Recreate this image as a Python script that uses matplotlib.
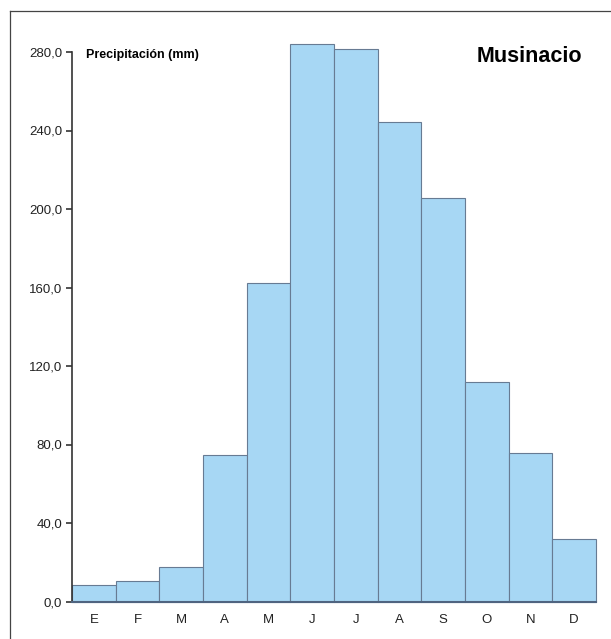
import matplotlib
matplotlib.use("Agg")
import matplotlib.pyplot as plt
from matplotlib.lines import Line2D
from matplotlib.ticker import FuncFormatter

plt.rcParams["font.family"] = ["Liberation Sans Narrow", "Liberation Sans", "DejaVu Sans"]

# ---------------------------------------------------------------------------
# Data
# ---------------------------------------------------------------------------
months = ["E", "F", "M", "A", "M", "J", "J", "A", "S", "O", "N", "D"]
precip = [8.6, 10.4, 17.4, 74.6, 162.4, 284.0, 281.5, 244.2, 205.8, 111.7, 75.7, 31.8]
yticks = [0, 40, 80, 120, 160, 200, 240, 280]

BAR_FILL = "#a7d7f4"
BAR_EDGE = "#677b93"

W, H = 611, 639
fig = plt.figure(figsize=(W / 100, H / 100), dpi=100)
ax = fig.add_axes([72 / W, 1 - 601.5 / H, (596 - 72) / W, (601.5 - 52) / H])

x = list(range(len(months)))
ax.bar(x, precip, width=1.0, color=BAR_FILL, edgecolor=BAR_EDGE,
       linewidth=0.8, clip_on=False, zorder=2)

ax.set_xlim(-0.5, len(months) - 0.5)
ax.set_ylim(0, 280)
ax.set_yticks(yticks)
ax.yaxis.set_major_formatter(FuncFormatter(lambda v, p: f"{v:.1f}".replace(".", ",")))
ax.set_xticks(x)
ax.set_xticklabels(months)

ax.tick_params(axis="y", direction="out", length=4, width=1.2, color="#333333",
               labelsize=9.5, labelcolor="#222222", pad=3)
ax.tick_params(axis="x", length=0, labelsize=9.5, labelcolor="#222222", pad=9)

for s in ["top", "right"]:
    ax.spines[s].set_visible(False)
ax.spines["left"].set_color("#333333")
ax.spines["left"].set_linewidth(1.2)
ax.spines["bottom"].set_color("#4f6480")
ax.spines["bottom"].set_linewidth(1.5)
ax.spines["bottom"].set_zorder(3)

ax.text(86 / W, 1 - 55 / H, "Precipitación (mm)", transform=fig.transFigure,
        fontsize=9, fontweight="bold", ha="left", va="center",
        family=["Liberation Sans", "DejaVu Sans"])
ax.text(582 / W, 1 - 56 / H, "Musinacio", transform=fig.transFigure,
        fontsize=15.5, fontweight="bold", ha="right", va="center",
        family=["Liberation Sans", "DejaVu Sans"])

# outer frame (top and left edges visible)
fig.add_artist(Line2D([9.5 / W, 9.5 / W], [0, 1 - 10.5 / H], transform=fig.transFigure,
                      color="#444444", linewidth=0.9))
fig.add_artist(Line2D([9.5 / W, 1], [1 - 10.5 / H, 1 - 10.5 / H], transform=fig.transFigure,
                      color="#444444", linewidth=0.9))

fig.savefig("out.png", dpi=100)
